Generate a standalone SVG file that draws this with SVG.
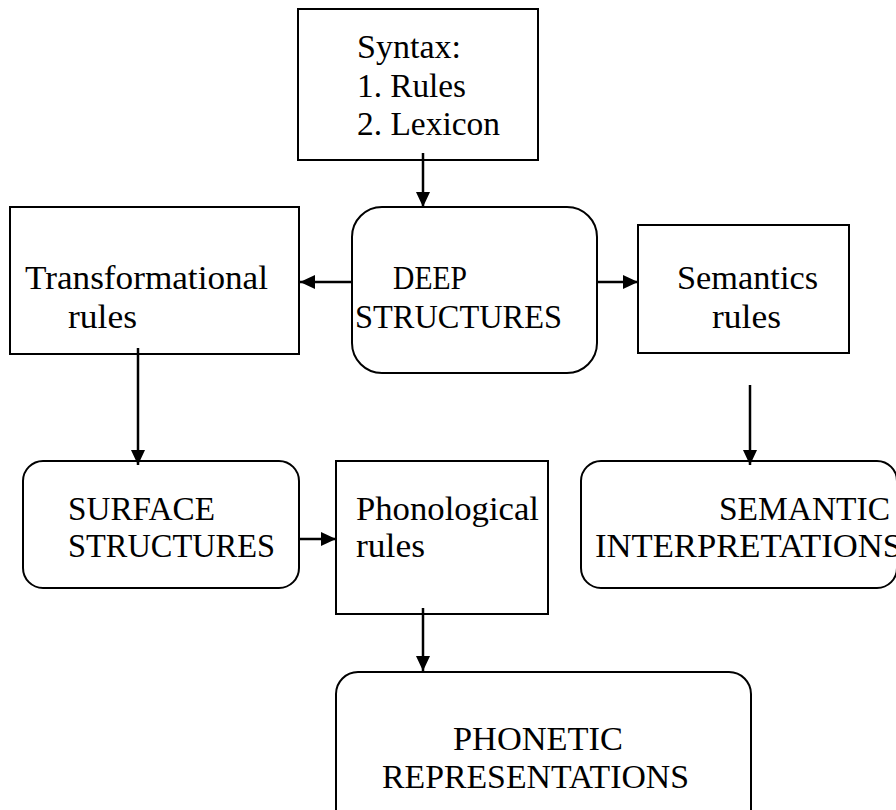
<svg xmlns="http://www.w3.org/2000/svg" width="896" height="810" viewBox="0 0 896 810">
<style>
.box{fill:#fff;stroke:#000;stroke-width:2}
.t{font-family:"Liberation Serif","Times New Roman",serif;font-size:33px;fill:#000}
.c{stroke:#000;stroke-width:2.5;fill:none}
</style>
<defs>
<marker id="ah" viewBox="0 0 15 14" refX="15" refY="7" markerWidth="15" markerHeight="14" markerUnits="userSpaceOnUse" orient="auto">
<path d="M0,0 L15,7 L0,14 z" fill="#000"/>
</marker>
</defs>
<rect width="896" height="810" fill="#fff"/>
<g id="syntax">
<rect class="box" x="298" y="9" width="240" height="151"/>
<text class="t" x="357" y="58" textLength="104" lengthAdjust="spacingAndGlyphs">Syntax:</text>
<text class="t" x="357" y="97" textLength="109" lengthAdjust="spacingAndGlyphs">1. Rules</text>
<text class="t" x="357" y="135" textLength="143" lengthAdjust="spacingAndGlyphs">2. Lexicon</text>
</g>
<g id="transformational">
<rect class="box" x="10" y="207" width="289" height="147"/>
<text class="t" x="25" y="289" textLength="243" lengthAdjust="spacingAndGlyphs">Transformational</text>
<text class="t" x="68" y="328" textLength="69" lengthAdjust="spacingAndGlyphs">rules</text>
</g>
<g id="deep">
<rect class="box" x="352" y="207" width="245" height="166" rx="30" ry="30"/>
<text class="t" x="393" y="289" textLength="74" lengthAdjust="spacingAndGlyphs">DEEP</text>
<text class="t" x="355" y="328" textLength="207" lengthAdjust="spacingAndGlyphs">STRUCTURES</text>
</g>
<g id="semantics">
<rect class="box" x="638" y="225" width="211" height="128"/>
<text class="t" x="677" y="289" textLength="141" lengthAdjust="spacingAndGlyphs">Semantics</text>
<text class="t" x="712" y="328" textLength="69" lengthAdjust="spacingAndGlyphs">rules</text>
</g>
<g id="surface">
<rect class="box" x="23" y="461" width="276" height="127" rx="20" ry="20"/>
<text class="t" x="68" y="520" textLength="147" lengthAdjust="spacingAndGlyphs">SURFACE</text>
<text class="t" x="68" y="557" textLength="207" lengthAdjust="spacingAndGlyphs">STRUCTURES</text>
</g>
<g id="phonological">
<rect class="box" x="336" y="461" width="212" height="153"/>
<text class="t" x="356" y="520" textLength="183" lengthAdjust="spacingAndGlyphs">Phonological</text>
<text class="t" x="356" y="557" textLength="69" lengthAdjust="spacingAndGlyphs">rules</text>
</g>
<g id="semantic-interpretations">
<rect class="box" x="581" y="461" width="316" height="127" rx="20" ry="20"/>
<text class="t" x="719" y="520" textLength="171" lengthAdjust="spacingAndGlyphs">SEMANTIC</text>
<text class="t" x="595" y="557" textLength="307" lengthAdjust="spacingAndGlyphs">INTERPRETATIONS</text>
</g>
<g id="phonetic">
<rect class="box" x="336" y="672" width="415" height="160" rx="22" ry="22"/>
<text class="t" x="453" y="750" textLength="170" lengthAdjust="spacingAndGlyphs">PHONETIC</text>
<text class="t" x="382" y="788" textLength="307" lengthAdjust="spacingAndGlyphs">REPRESENTATIONS</text>
</g>
<g id="connectors">
<line class="c" x1="423" y1="153" x2="423" y2="207" marker-end="url(#ah)"/>
<line class="c" x1="352" y1="282" x2="300" y2="282" marker-end="url(#ah)"/>
<line class="c" x1="597" y1="282" x2="638" y2="282" marker-end="url(#ah)"/>
<line class="c" x1="138" y1="348" x2="138" y2="465" marker-end="url(#ah)"/>
<line class="c" x1="750" y1="385" x2="750" y2="465" marker-end="url(#ah)"/>
<line class="c" x1="299" y1="539" x2="336" y2="539" marker-end="url(#ah)"/>
<line class="c" x1="423" y1="608" x2="423" y2="671" marker-end="url(#ah)"/>
</g>
</svg>
